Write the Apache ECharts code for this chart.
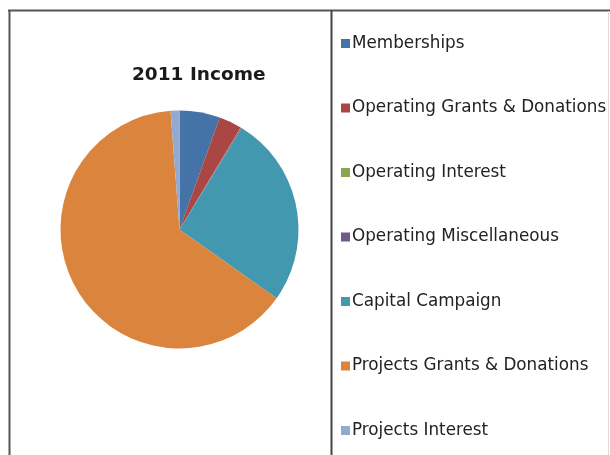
<!DOCTYPE html>
<html>
<head>
<meta charset="utf-8">
<script src="https://cdn.jsdelivr.net/npm/echarts@6/dist/echarts.min.js"></script>
<style>
html,body{margin:0;padding:0;background:#fff;}
#chart{width:610px;height:455px;}
</style>
</head>
<body>
<div id="chart"></div>
<script>
var title = '2011 Income';
var categories = ['Memberships','Operating Grants & Donations','Operating Interest','Operating Miscellaneous','Capital Campaign','Projects Grants & Donations','Projects Interest'];
var values = [5.5, 3.1, 0.05, 0.15, 26.0, 64.0, 1.2];
var colors = ['#4572A7','#AA4643','#89A54E','#71588F','#4198AF','#DB843D','#93A9CF'];

var chart = echarts.init(document.getElementById('chart'));
chart.setOption({
  backgroundColor: '#fff',
  animation: false,
  color: colors,
  title: {
    text: title,
    left: 132,
    top: 65.5,
    padding: 0,
    textStyle: {fontFamily: 'DejaVu Sans', fontWeight: 'bold', fontSize: 18.5, color: '#1a1a1a'}
  },
  legend: {
    orient: 'vertical',
    left: 341,
    top: 35,
    height: 420,
    padding: 0,
    icon: 'rect',
    itemWidth: 9,
    itemHeight: 9,
    itemGap: 47.5,
    data: categories,
    textStyle: {fontFamily: 'DejaVu Sans', fontSize: 16.8, color: '#222', padding: [0, 0, 0, -3]}
  },
  graphic: [
    {type: 'line', shape: {x1: 8, y1: 10.5, x2: 610, y2: 10.5}, style: {stroke: '#555', lineWidth: 2}},
    {type: 'line', shape: {x1: 9.5, y1: 10, x2: 9.5, y2: 455}, style: {stroke: '#555', lineWidth: 2}},
    {type: 'line', shape: {x1: 331.5, y1: 10, x2: 331.5, y2: 455}, style: {stroke: '#444', lineWidth: 2}},
    {type: 'line', shape: {x1: 608.5, y1: 11, x2: 608.5, y2: 455}, style: {stroke: '#ddd', lineWidth: 1}}
  ],
  series: [{
    type: 'pie',
    center: [179.5, 229.5],
    radius: 119,
    startAngle: 90,
    clockwise: true,
    label: {show: false},
    labelLine: {show: false},
    itemStyle: {borderWidth: 0},
    emphasis: {disabled: true},
    data: categories.map(function (c, i) { return {name: c, value: values[i]}; })
  }]
});
</script>
</body>
</html>
